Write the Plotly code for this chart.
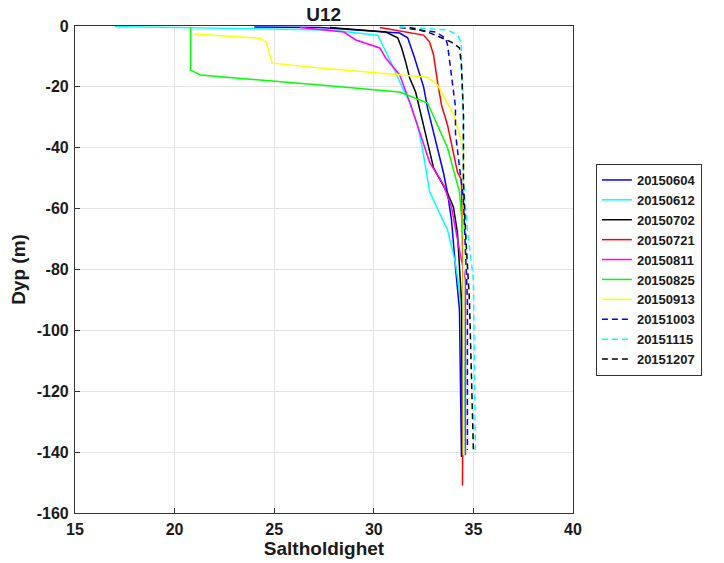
import plotly.graph_objects as go

# Series names (legend)
names = ["20150604", "20150612", "20150702", "20150721", "20150811",
         "20150825", "20150913", "20151003", "20151115", "20151207"]

# Salinity (x) and depth (y) per profile
s_0604 = [24.0, 27.3, 31.3, 31.7, 32.0, 32.2, 32.5, 32.7, 33.2, 33.5, 33.7, 33.9, 34.1, 34.3, 34.4]
d_0604 = [-0.3, -0.5, -2.3, -3.9, -9.5, -13.5, -20.0, -27.0, -40.7, -48.3, -54.9, -63.7, -79.2, -93.3, -141.6]

s_0612 = [17.0, 27.8, 30.2, 30.7, 31.0, 31.3, 31.8, 32.2, 32.5, 32.8, 33.7, 34.1, 34.3, 34.5, 34.6]
d_0612 = [-0.2, -1.3, -3.0, -9.5, -13.8, -18.4, -25.0, -32.5, -42.4, -54.5, -67.0, -77.9, -86.7, -96.6, -141.0]

s_0702 = [27.8, 30.6, 31.2, 31.4, 31.6, 31.8, 32.1, 32.4, 32.7, 33.0, 33.7, 34.0, 34.2, 34.3, 34.4, 34.45]
d_0702 = [-0.5, -2.0, -3.9, -7.2, -11.8, -17.1, -21.7, -30.2, -39.1, -46.6, -54.9, -59.5, -68.0, -79.0, -90.0, -141.5]

s_0721 = [30.3, 32.5, 32.8, 33.0, 33.2, 33.4, 33.7, 33.9, 34.2, 34.4, 34.5, 34.45]
d_0721 = [-0.5, -3.0, -5.3, -9.5, -18.4, -26.0, -32.5, -39.1, -48.0, -50.6, -90.0, -151.0]

s_0811 = [26.3, 28.5, 29.1, 30.3, 30.6, 30.9, 31.3, 31.8, 32.3, 32.8, 33.5, 33.9, 34.3, 34.6, 34.6]
d_0811 = [-0.5, -2.0, -4.6, -7.2, -10.5, -12.8, -16.1, -25.0, -34.8, -44.7, -52.2, -59.5, -73.6, -83.4, -141.0]

s_0825 = [20.8, 20.8, 21.3, 24.3, 27.3, 31.3, 32.7, 33.7, 34.3, 34.5, 34.5]
d_0825 = [-0.5, -14.5, -16.1, -17.7, -19.4, -21.7, -25.3, -40.0, -54.5, -70.0, -141.0]

s_0913 = [21.0, 24.3, 24.6, 24.9, 27.3, 32.7, 33.2, 34.0, 34.5, 34.5]
d_0913 = [-2.6, -4.0, -5.3, -12.2, -13.8, -16.8, -19.4, -29.0, -40.0, -141.0]

s_1003 = [31.3, 33.1, 33.6, 33.7, 33.8, 33.9, 34.1, 34.1, 34.3, 34.5, 34.7, 34.7]
d_1003 = [-0.5, -2.0, -3.9, -6.2, -11.2, -16.8, -26.6, -35.2, -46.3, -57.2, -90.0, -139.3]

s_1115 = [31.3, 33.7, 34.2, 34.4, 34.4, 34.5, 34.5, 34.7, 35.0, 35.1]
d_1115 = [-0.3, -1.3, -3.0, -5.6, -14.5, -29.2, -51.2, -67.0, -83.4, -139.3]

s_1207 = [31.8, 32.7, 33.3, 33.9, 34.3, 34.4, 34.5, 34.5, 34.6, 34.8, 35.0]
d_1207 = [-0.5, -2.0, -3.6, -5.3, -7.2, -12.8, -29.2, -51.2, -67.0, -90.0, -139.3]

salinity = [s_0604, s_0612, s_0702, s_0721, s_0811, s_0825, s_0913, s_1003, s_1115, s_1207]
depth = [d_0604, d_0612, d_0702, d_0721, d_0811, d_0825, d_0913, d_1003, d_1115, d_1207]
colors = ["#0000ff", "#00ffff", "#000000", "#ff0000", "#ff00ff",
          "#00ff00", "#ffff00", "#0000ff", "#00ffff", "#000000"]
dashes = ["solid"] * 7 + ["6px,4px"] * 3

x_ticks = [15, 20, 25, 30, 35, 40]
x_labels = ["15", "20", "25", "30", "35", "40"]
y_ticks = [0, -20, -40, -60, -80, -100, -120, -140, -160]
y_labels = ["0", "-20", "-40", "-60", "-80", "-100", "-120", "-140", "-160"]

FONT = "Liberation Sans"
TXT = "#1a1a1a"

fig = go.Figure()
for n, s, d, c, ds in zip(names, salinity, depth, colors, dashes):
    fig.add_trace(go.Scatter(x=s, y=d, mode="lines", name=n,
                             line=dict(color=c, width=1.5, dash=ds)))

axis_common = dict(showline=True, linecolor="#333333", linewidth=1.2, mirror=True,
                   ticks="inside", ticklen=5, tickcolor="#333333", automargin=False,
                   showgrid=True, gridcolor="#e4e4e4", gridwidth=1, zeroline=False,
                   tickfont=dict(family=FONT, size=16, color=TXT, weight="bold"))

fig.update_xaxes(range=[15, 40], tickvals=x_ticks, ticktext=x_labels, ticklabelstandoff=2,
                 **axis_common,
                 title=dict(text="Saltholdighet", standoff=2,
                            font=dict(family=FONT, size=19, color=TXT, weight="bold")))
fig.update_yaxes(range=[-160, 0], tickvals=y_ticks, ticktext=y_labels, ticklabelstandoff=2,
                 **axis_common,
                 title=dict(text="Dyp (m)", standoff=6,
                            font=dict(family=FONT, size=19, color=TXT, weight="bold")))

fig.update_layout(
    width=724, height=563,
    margin=dict(l=75, r=151, t=26, b=50),
    paper_bgcolor="white", plot_bgcolor="white",
    title=dict(text="U12", x=0.447, xanchor="center", y=0.975, yanchor="middle",
               font=dict(family=FONT, size=19, color=TXT, weight="bold")),
    legend=dict(x=1.046, xanchor="left", y=0.499, yanchor="middle",
                bordercolor="#333333", borderwidth=1, bgcolor="white",
                font=dict(family=FONT, size=13, color=TXT, weight="bold"),
                tracegroupgap=0, itemwidth=30),
    showlegend=True,
)

fig.write_html("out.html")
